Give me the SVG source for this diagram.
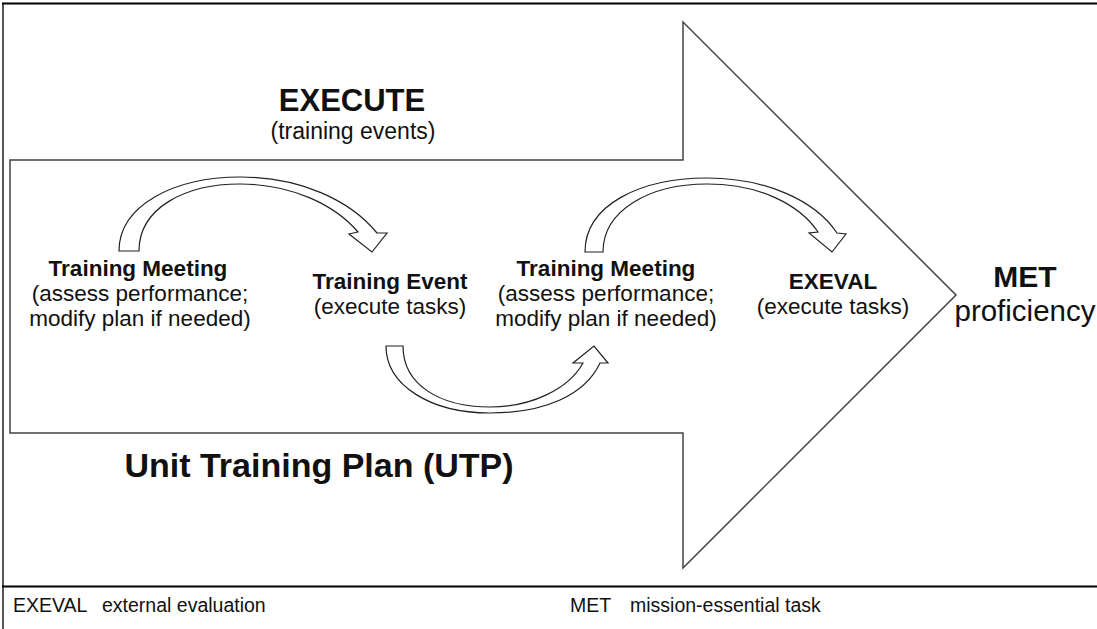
<svg xmlns="http://www.w3.org/2000/svg" width="1097" height="629" viewBox="0 0 1097 629">
<style>
.t{font-family:"Liberation Sans",Arial,sans-serif;fill:#111;text-anchor:middle}
.b{font-weight:bold}
.r{font-size:22.5px}
.f{font-family:"Liberation Sans",Arial,sans-serif;fill:#111;font-size:19.5px}
.ca{fill:#fff;stroke:#222;stroke-width:1.2;stroke-linejoin:miter}
</style>
<rect x="0" y="0" width="1097" height="629" fill="#fff"/>
<g id="frame">
<line x1="3" y1="3" x2="3" y2="629" stroke="#555" stroke-width="2"/>
<line x1="2" y1="3.5" x2="1097" y2="3.5" stroke="#000" stroke-width="2"/>
<line x1="2" y1="586.5" x2="1097" y2="586.5" stroke="#000" stroke-width="2"/>
</g>
<g id="big-arrow">
<path d="M10,160 H683 V22 L956,295 L683,568 V433 H10 Z" fill="#fff" stroke="#444" stroke-width="1.5"/>
<text class="t b" x="352" y="111" font-size="31">EXECUTE</text>
<text class="t" x="353" y="139" font-size="23">(training events)</text>
<text class="t b" x="319" y="477" font-size="34">Unit Training Plan (UTP)</text>
</g>
<g id="connectors">
<path class="ca" d="M119,251 C119,205 175,177 240,177 C300,177 350,200 377,233 L387,233 L372,252 L349,234 L358,232 C335,205 292,184 240,184 C185,184 139,208 139,251 Z"/>
<path class="ca" d="M386,346 C386,385 430,413 490,413 C545,413 585,395 600,363 L608,363 L594,346 L573,363 L583,363 C568,390 530,407 490,407 C440,407 403,385 403,346 Z"/>
<path class="ca" d="M585,252 C585,205 640,178 707,178 C765,178 815,200 837,233 L846,234 L832,252 L809,233 L818,232 C800,205 760,184 707,184 C650,184 603,210 603,252 Z"/>
</g>
<g id="meeting1">
<text class="t b r" x="138" y="276">Training Meeting</text>
<text class="t r" x="140" y="301">(assess performance;</text>
<text class="t r" x="140" y="326">modify plan if needed)</text>
</g>
<g id="event">
<text class="t b r" x="390" y="289">Training Event</text>
<text class="t r" x="390" y="314">(execute tasks)</text>
</g>
<g id="meeting2">
<text class="t b r" x="606" y="276">Training Meeting</text>
<text class="t r" x="606" y="301">(assess performance;</text>
<text class="t r" x="606" y="326">modify plan if needed)</text>
</g>
<g id="exeval">
<text class="t b r" x="833" y="289">EXEVAL</text>
<text class="t r" x="833" y="314">(execute tasks)</text>
</g>
<g id="met">
<text class="t b" x="1025" y="287" font-size="30">MET</text>
<text class="t" x="1025" y="321" font-size="29.5">proficiency</text>
</g>
<g id="legend">
<text class="f" x="13" y="612">EXEVAL</text>
<text class="f" x="102" y="612">external evaluation</text>
<text class="f" x="570" y="612">MET</text>
<text class="f" x="630" y="612">mission-essential task</text>
</g>
</svg>
